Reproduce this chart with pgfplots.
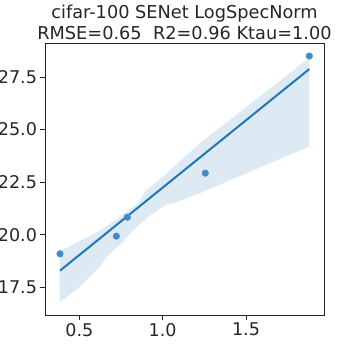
\documentclass[border=0pt]{standalone}
\usepackage{pgfplots}
\pgfplotsset{compat=1.18}
\usepackage{fontspec}
\setmainfont{DejaVu Sans}
\definecolor{sbline}{HTML}{1F77B4}
\definecolor{sbfill}{RGB}{221,234,244}
\definecolor{sbpt}{RGB}{66,140,195}
\definecolor{axcol}{RGB}{38,38,38}
\begin{document}
\begin{tikzpicture}
\begin{axis}[name=ax, scale only axis, width=279bp, height=272bp,
  xmin=0.294, xmax=1.968, ymin=16.18, ymax=29.12,
  xtick={0.5,1.0,1.5}, ytick={17.5,20,22.5,25,27.5},
  /pgf/number format/assume math mode=true,
  /pgf/number format/.cd, fixed, fixed zerofill, precision=1, /pgfplots/.cd,
  tick label style={font=\fontsize{17.6}{20}\selectfont, color=axcol},
  tick align=outside, tick pos=left, major tick length=4.5bp,
  tick style={axcol, line width=0.8bp},
  axis line style={axcol, line width=0.9bp},
  title={cifar-100 SENet LogSpecNorm\\RMSE=0.65~~R2=0.96 Ktau=1.00},
  title style={font=\fontsize{17.8}{21.5}\selectfont, align=center, at={(0.5,1)}, anchor=south, inner sep=0pt, yshift=-3bp, color=axcol},
  clip=true]
\addplot[fill=sbfill, draw=none] coordinates {
(0.384,19.20) (0.494,19.67) (0.614,20.15) (0.734,20.79) (0.854,21.50) (0.894,22.05) (1.014,22.85) (1.224,24.36) (1.584,26.58) (1.880,28.42)
(1.880,24.20) (1.224,21.98) (1.084,21.55) (1.014,21.40) (0.914,20.86) (0.814,20.15) (0.754,19.60) (0.664,18.96) (0.624,18.48) (0.494,17.45) (0.384,16.81)
} -- cycle;
\addplot[sbline, line width=2bp] coordinates {(0.384,18.29) (1.880,27.88)};
\addplot[only marks, mark=*, mark size=3.3bp, color=sbpt, mark options={draw=sbpt, fill=sbpt}] coordinates {
(0.384,19.09) (0.722,19.93) (0.788,20.83) (1.256,22.93) (1.880,28.50)};
\end{axis}
\pgfresetboundingbox
\path (ax.south west) ++(-45bp,-45bp) coordinate (a);
\path (ax.north east) ++(36bp,43bp) coordinate (b);
\useasboundingbox (a) rectangle (b);
\end{tikzpicture}
\end{document}
